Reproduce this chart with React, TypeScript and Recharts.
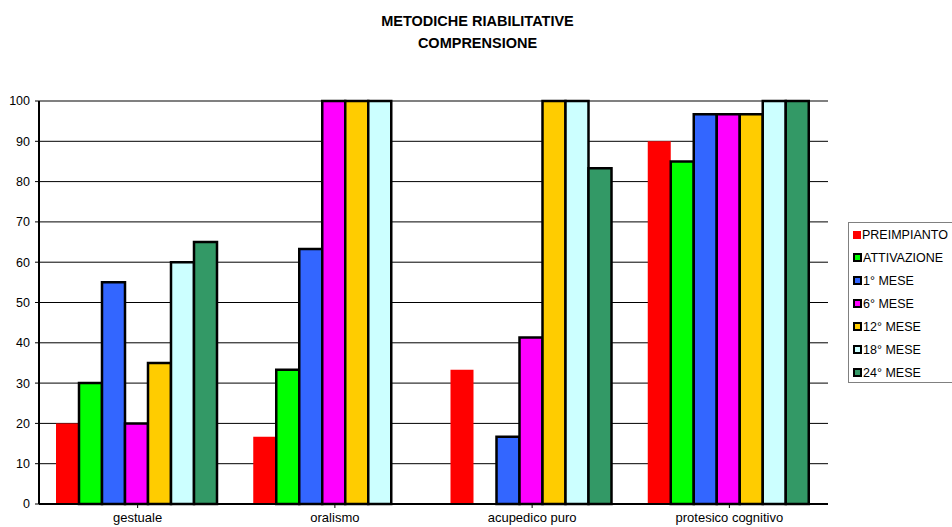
import { BarChart, Bar, XAxis, YAxis, CartesianGrid } from "recharts";

const categories = ["gestuale", "oralismo", "acupedico puro", "protesico cognitivo"];

const preimpianto = [20, 16.7, 33.3, 90];
const attivazione = [30, 33.3, null, 85];
const mese1 = [55, 63.3, 16.7, 96.7];
const mese6 = [20, 100, 41.3, 96.7];
const mese12 = [35, 100, 100, 96.7];
const mese18 = [60, 100, 100, 100];
const mese24 = [65, null, 83.3, 100];

const yTicks = [0, 10, 20, 30, 40, 50, 60, 70, 80, 90, 100];
const innerGrid = [10, 20, 30, 40, 50, 60, 70, 80, 90];
const topEdge = [100];

const series = [
  { key: "PREIMPIANTO", values: preimpianto, color: "#FF0000", outline: false },
  { key: "ATTIVAZIONE", values: attivazione, color: "#00FF00", outline: true },
  { key: "1° MESE", values: mese1, color: "#3366FF", outline: true },
  { key: "6° MESE", values: mese6, color: "#FF00FF", outline: true },
  { key: "12° MESE", values: mese12, color: "#FFCC00", outline: true },
  { key: "18° MESE", values: mese18, color: "#CCFFFF", outline: true },
  { key: "24° MESE", values: mese24, color: "#339966", outline: true },
];

const data = categories.map((name, i) => {
  const row: Record<string, string | number | null> = { name };
  series.forEach((s) => (row[s.key] = s.values[i]));
  return row;
});

const FONT = "'Liberation Sans', Arial, sans-serif";

function LegendBox() {
  return (
    <div style={{ position: "absolute", left: 848, top: 222, width: 120, height: 161, border: "1px solid #808080", background: "#fff", paddingLeft: 4, fontFamily: FONT, fontSize: 12.5, color: "#000", boxSizing: "border-box" }}>
      {series.map((s) => (
        <div key={s.key} style={{ display: "flex", alignItems: "center", height: 23 }}>
          <span style={{ width: s.outline ? 5 : 8, height: s.outline ? 5 : 8, background: s.color, border: s.outline ? "2px solid #000" : "none", marginRight: 1, flexShrink: 0 }} />
          <span>{s.key}</span>
        </div>
      ))}
    </div>
  );
}

export default function App() {
  return (
    <div style={{ position: "absolute", left: 0, top: 0, width: 952, height: 527, overflow: "hidden", background: "#fff", fontFamily: FONT }}>
      <div style={{ position: "absolute", left: 0, top: 10, width: 955, textAlign: "center", fontWeight: "bold", fontSize: 14.5, lineHeight: "22px", color: "#000" }}>
        METODICHE RIABILITATIVE
        <br />
        COMPRENSIONE
      </div>
      <BarChart
        width={952}
        height={527}
        data={data}
        margin={{ top: 101, right: 124, left: 0, bottom: 3 }}
        barCategoryGap={17}
        barGap={0}
      >
        {/* black gridlines inside, grey frame edge along the top */}
        <CartesianGrid vertical={false} horizontalValues={innerGrid} stroke="#000" strokeWidth={1} />
        <CartesianGrid vertical={false} horizontalValues={topEdge} stroke="#808080" strokeWidth={2} />
        <XAxis
          dataKey="name"
          height={20}
          tick={{ fontSize: 13, fill: "#000", fontFamily: FONT }}
          tickSize={4}
          tickMargin={5}
          axisLine={{ stroke: "#000", strokeWidth: 2 }}
          tickLine={{ stroke: "#000" }}
          interval={0}
        />
        <YAxis
          width={39}
          domain={[0, 100]}
          ticks={yTicks}
          tick={{ fontSize: 12.5, fill: "#000", fontFamily: FONT }}
          tickSize={4}
          tickMargin={5}
          axisLine={{ stroke: "#000", strokeWidth: 2 }}
          tickLine={{ stroke: "#000" }}
        />
        <YAxis
          yAxisId="frame"
          orientation="right"
          width={0}
          domain={[0, 100]}
          tick={false}
          tickLine={false}
          axisLine={{ stroke: "#808080", strokeWidth: 2 }}
        />
        {series.map((s) => (
          <Bar
            key={s.key}
            dataKey={s.key}
            fill={s.color}
            stroke={s.outline ? "#000" : "none"}
            strokeWidth={2.5}
            isAnimationActive={false}
          />
        ))}
      </BarChart>
      <LegendBox />
    </div>
  );
}
